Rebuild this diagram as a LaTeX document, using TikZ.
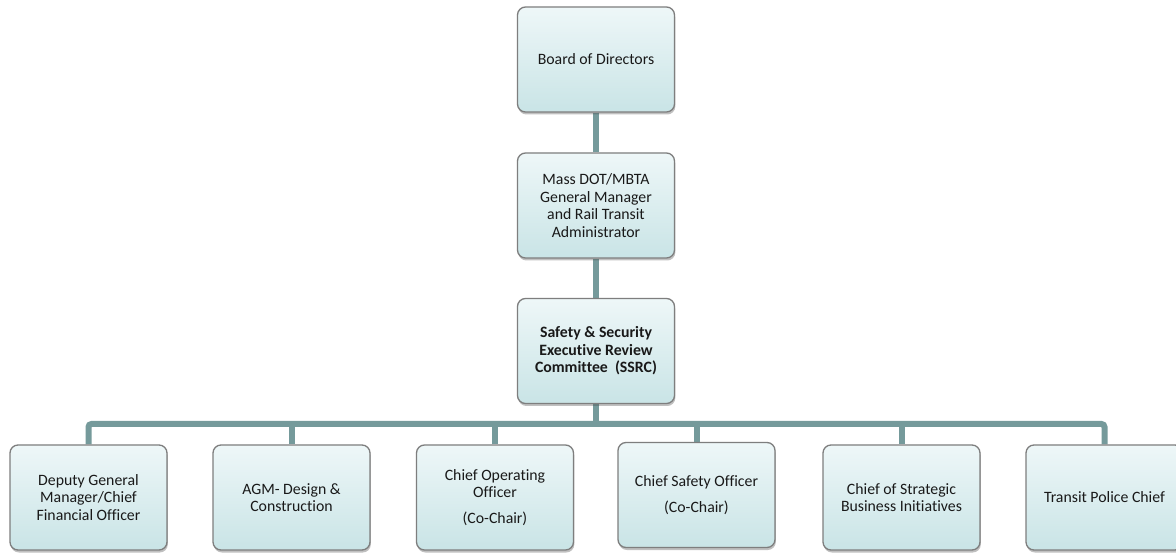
\documentclass[tikz,border=0pt]{standalone}
\usepackage{fontspec}
\setmainfont{Carlito}[Ligatures=NoCommon]
\usetikzlibrary{shadows}
\pgfdeclarelayer{background}
\pgfdeclarelayer{paper}
\pgfsetlayers{paper,background,main}

\definecolor{boxtop}{HTML}{EEF7F8}
\definecolor{boxbot}{HTML}{C9E4E6}
\definecolor{boxline}{HTML}{7E7E7E}
\definecolor{linkcol}{HTML}{759A9B}

\tikzset{
  orgbox/.style={
    draw=boxline, line width=1.3pt, rounded corners=8pt,
    minimum width=157pt, minimum height=105pt,
    top color=boxtop, bottom color=boxbot,
    align=center, font=\fontsize{15.8}{17.5}\selectfont, text=black!90,
    drop shadow={shadow xshift=0.8pt, shadow yshift=-2.5pt, opacity=0.35, fill=black!70}
  },
  link/.style={draw=linkcol, line width=6pt}
}

\begin{document}
\begin{tikzpicture}[x=1pt,y=1pt]
\clip (0,0) rectangle (1176,552);
\begin{pgfonlayer}{paper}
  \fill[white] (0,0) rectangle (1176,552);
\end{pgfonlayer}

% top of the chain
\node[orgbox] (board) at (596,492.5) {Board of Directors};
\node[orgbox] (gm) at (596,346.5) {Mass DOT/MBTA\\General Manager\\and Rail Transit\\Administrator};
\node[orgbox] (ssrc) at (596,201) {\textbf{Safety \& Security}\\\textbf{Executive Review}\\\textbf{Committee~ (SSRC)}};

% committee members
\node[orgbox] (dgm) at (88.5,54.5) {Deputy General\\Manager/Chief\\Financial Officer};
\node[orgbox] (agm) at (291.5,54.5) {AGM- Design \&\\Construction};
\node[orgbox] (coo) at (495,54.5) {Chief Operating\\Officer\\[8pt](Co-Chair)};
\node[orgbox] (cso) at (696.5,57) {Chief Safety Officer\\[8pt](Co-Chair)};
\node[orgbox] (csbi) at (901.5,54.5) {Chief of Strategic\\Business Initiatives};
\node[orgbox] (tpc) at (1104.5,54.5) {Transit Police Chief};

\coordinate (bus) at (596,128);

\begin{pgfonlayer}{background}
  \draw[link] (board.south) -- (gm.north);
  \draw[link] (gm.south) -- (ssrc.north);
  \draw[link] (ssrc.south) -- (bus);
  \draw[link, rounded corners=3pt] (dgm.north) |- (bus) -| (tpc.north);
  \foreach \n in {agm,coo,cso,csbi}
    \draw[link] (\n.north) -- (\n.north |- bus);
\end{pgfonlayer}
\end{tikzpicture}
\end{document}
